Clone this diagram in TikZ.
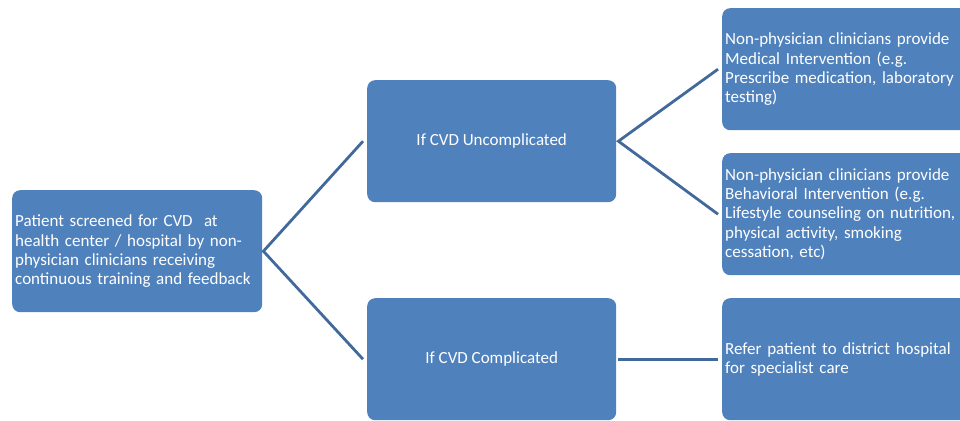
\documentclass[tikz,border=0pt]{standalone}
\usepackage{fontspec}
\setmainfont{Carlito}
\definecolor{boxfill}{HTML}{4F81BD}
\definecolor{linecol}{HTML}{41699C}
\begin{document}
\begin{tikzpicture}[x=1pt,y=-1pt,
  box/.style={fill=boxfill, draw=none, rounded corners=8pt, anchor=north west,
    minimum height=122pt, inner xsep=3pt, inner ysep=0pt, text=white,
    font=\fontsize{17}{19.2}\selectfont},
  lbox/.style={box, text width=244pt, align=left},
  cbox/.style={box, minimum width=249pt, align=center},
  conn/.style={draw=linecol, line width=2.8pt}]
\useasboundingbox (0,0) rectangle (960,420);
\node[lbox] (a) at (12,190) {Patient screened for CVD\ \ at\\health center / hospital by non-\\physician clinicians receiving\\continuous training and feedback};
\node[cbox] (b) at (367,80) {If CVD Uncomplicated};
\node[cbox] (c) at (367,298) {If CVD Complicated};
\node[lbox] (d) at (722,8) {Non-physician clinicians provide\\Medical Intervention (e.g.\\Prescribe medication, laboratory\\testing)};
\node[lbox] (e) at (722,153) {Non-physician clinicians provide\\Behavioral Intervention (e.g.\\Lifestyle counseling on nutrition,\\physical activity, smoking\\cessation, etc)};
\node[lbox] (f) at (722,298) {Refer patient to district hospital\\for specialist care};
\coordinate (a1) at ([xshift=1pt]a.east);
\coordinate (b1) at ([xshift=-4pt]b.west);
\coordinate (c1) at ([xshift=-4pt]c.west);
\coordinate (b2) at ([xshift=2pt]b.east);
\coordinate (d1) at ([xshift=-4pt]d.west);
\coordinate (e1) at ([xshift=-4pt]e.west);
\coordinate (c2) at ([xshift=2pt]c.east);
\coordinate (f1) at ([xshift=-4pt]f.west);
\draw[conn] (b1) -- (a1) -- (c1);
\draw[conn] (d1) -- (b2) -- (e1);
\draw[conn] (c2) -- (f1);
\end{tikzpicture}
\end{document}
